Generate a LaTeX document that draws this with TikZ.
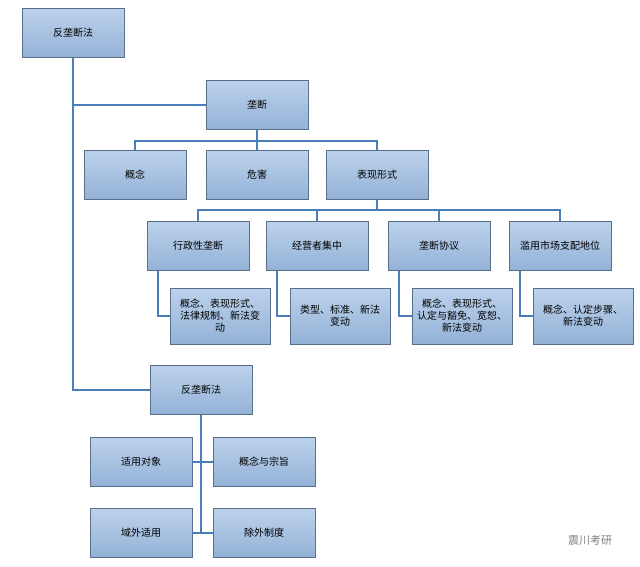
\documentclass[tikz,border=0pt]{standalone}
\usepackage{fontspec}
\setmainfont{Noto Sans CJK SC}
\usetikzlibrary{positioning}
\definecolor{boxtop}{HTML}{BCD2EC}
\definecolor{boxbot}{HTML}{93B1D6}
\definecolor{boxline}{HTML}{5A6F8C}
\definecolor{linkc}{HTML}{4A7EBB}
\begin{document}
\begin{tikzpicture}[x=1pt,y=-1pt,
  box/.style={draw=boxline, line width=0.8pt, top color=boxtop, bottom color=boxbot, minimum width=102pt, minimum height=49pt, font=\fontsize{10}{12}\selectfont, align=center, inner sep=1pt},
  detail/.style={box, minimum width=100pt, minimum height=56pt},
  link/.style={draw=linkc, line width=2pt}]
  \useasboundingbox (0,0) rectangle (640,567);
  % top levels
  \node[box] (root)   at (73,33)   {反垄断法};
  \node[box] (mono)   at (257,105) {垄断};
  \node[box] (concept) at (135,175) {概念};
  \node[box] (harm)   at (257,175) {危害};
  \node[box] (forms)  at (377,175) {表现形式};
  % forms
  \node[box] (admin)  at (198,246) {行政性垄断};
  \node[box] (merger) at (317,246) {经营者集中};
  \node[box] (agree)  at (439,246) {垄断协议};
  \node[box] (abuse)  at (560,246) {滥用市场支配地位};
  \node[detail] (adminD)  at (220,316) {概念、表现形式、\\法律规制、新法变\\动};
  \node[detail] (mergerD) at (340,316) {类型、标准、新法\\变动};
  \node[detail] (agreeD)  at (462,316) {概念、表现形式、\\认定与豁免、宽恕、\\新法变动};
  \node[detail] (abuseD)  at (583,316) {概念、认定步骤、\\新法变动};
  % law
  \node[box] (law)    at (201,390) {反垄断法};
  \node[box] (scope)  at (141,462) {适用对象};
  \node[box] (aim)    at (264,462) {概念与宗旨};
  \node[box] (extra)  at (141,533) {域外适用};
  \node[box] (exempt) at (264,533) {除外制度};
  % connectors
  \draw[link] (root.south) |- (mono.west);
  \draw[link] (root.south) |- (law.west);
  \draw[link] (mono.south) -- ++(0,11) coordinate (m1);
  \draw[link] (concept.north) |- (m1) -| (forms.north);
  \draw[link] (harm.north) -- (m1);
  \draw[link] (forms.south) -- ++(0,10) coordinate (f1);
  \draw[link] (admin.north) |- (f1) -| (abuse.north);
  \draw[link] (merger.north) -- (merger.north |- f1);
  \draw[link] (agree.north) -- (agree.north |- f1);
  \foreach \a in {admin,merger,agree,abuse}
    \draw[link] ([xshift=-40pt]\a.south) |- (\a D.west);
  \draw[link] (law.south) -- (law.south |- exempt.west);
  \draw[link] (scope.east) -- (aim.west);
  \draw[link] (extra.east) -- (exempt.west);
  % watermark
  \node[text=gray, font=\fontsize{11}{13}\selectfont] (mark) at (590,540) {震川考研};
\end{tikzpicture}
\end{document}
